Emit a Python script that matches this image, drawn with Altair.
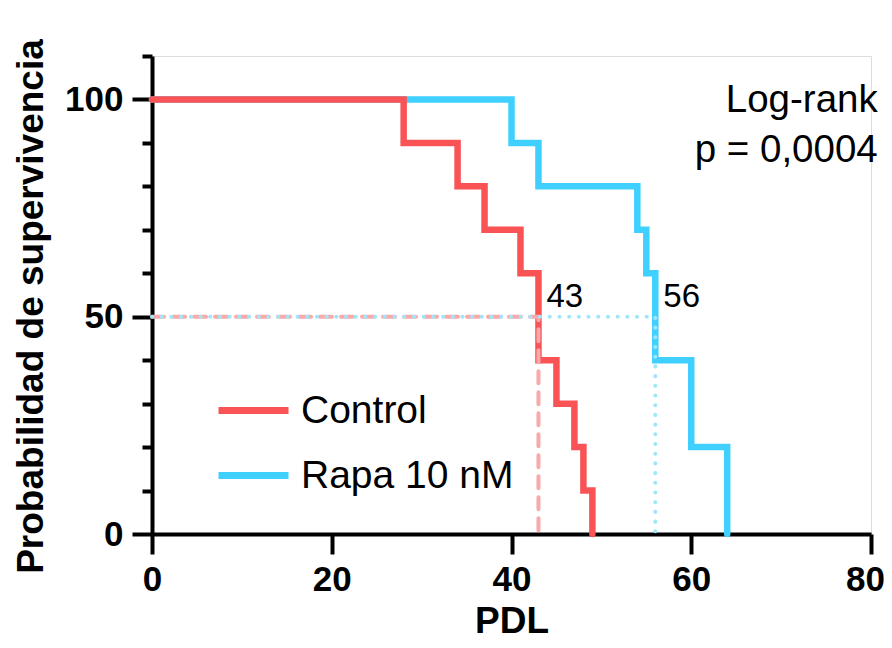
import altair as alt
import pandas as pd

# Kaplan-Meier step data
ctrl_pdl = [0, 28, 34, 37, 41, 43, 45, 47, 48, 49]
ctrl_surv = [100, 90, 80, 70, 60, 40, 30, 20, 10, 0]
rapa_pdl = [0, 40, 43, 54, 55, 56, 60, 64]
rapa_surv = [100, 90, 80, 70, 60, 40, 20, 0]

groups = ["Control", "Rapa 10 nM"]
colors = ["#F95355", "#40D0FF"]
medians = [43, 56]
median_colors = ["#F9A9AA", "#A0E6FA"]

ann_lines = ["Log-rank", "p = 0,0004"]
ann_x = [80.75, 80.75]
ann_y = [97.2, 85.7]

FONT = "Liberation Sans"

ctrl_df = pd.DataFrame({"PDL": ctrl_pdl, "surv": ctrl_surv, "group": groups[0]})
rapa_df = pd.DataFrame({"PDL": rapa_pdl, "surv": rapa_surv, "group": groups[1]})

xscale = alt.Scale(domain=[0, 80], nice=False, zero=False)
yscale = alt.Scale(domain=[0, 110], nice=False)

x_axis = alt.Axis(
    values=[0, 20, 40, 60, 80], title="PDL", grid=False, labelFlush=False,
    labelOffset={"condition": {"test": "datum.value === 80", "value": -6}, "value": 0},
    tickSize=20, tickWidth=4, tickColor="black", domainWidth=4, domainColor="black",
    labelFontSize=35, labelFontWeight="bold", labelFont=FONT, labelColor="black",
    labelPadding=8, titleFontSize=37, titleFontWeight="bold", titleFont=FONT,
    titleColor="black", titleX=359.5, titleY=98, titleBaseline="alphabetic",
    titleAlign="center",
)
y_axis = alt.Axis(
    values=list(range(0, 111, 5)),
    labelExpr="datum.value % 50 === 0 ? datum.label : ''",
    title="Probabilidad de supervivencia", grid=False, labelFlush=False,
    tickSize={"condition": {"test": "datum.value % 50 === 0", "value": 20}, "value": 10},
    tickWidth=4, tickColor="black", domainWidth=4, domainColor="black",
    labelFontSize=35, labelFontWeight="bold", labelFont=FONT, labelColor="black",
    labelPadding=9, titleFontSize=37, titleFontWeight="bold", titleFont=FONT,
    titleColor="black", titleX=-110, titleY=250, titleAngle=-90,
    titleBaseline="alphabetic", titleAlign="center",
)

color = alt.Color(
    "group:N",
    scale=alt.Scale(domain=groups, range=colors),
    legend=alt.Legend(
        title=None, orient="none", legendX=63, legendY=316, padding=0,
        symbolType="stroke", symbolSize=4900, symbolStrokeWidth=7,
        labelFontSize=39, labelFont=FONT, labelColor="black", labelOffset=9,
        labelLimit=400, rowPadding=6,
    ),
)

def curve(df):
    return alt.Chart(df).mark_line(
        interpolate="step-after", strokeWidth=6.5, strokeCap="round", strokeJoin="miter"
    ).encode(
        x=alt.X("PDL:Q", scale=xscale, axis=x_axis),
        y=alt.Y("surv:Q", scale=yscale, axis=y_axis),
        color=color,
    )

rapa = curve(rapa_df)
ctrl = curve(ctrl_df)

def median_line(m, col, dash):
    df = pd.DataFrame({"PDL": [0, m, m], "surv": [50, 50, 0], "o": [0, 1, 2]})
    return alt.Chart(df).mark_line(
        stroke=col, strokeWidth=4, strokeDash=dash, strokeCap="round"
    ).encode(
        x=alt.X("PDL:Q", scale=xscale),
        y=alt.Y("surv:Q", scale=yscale),
        order="o:Q",
    )

med_ctrl = median_line(medians[0], median_colors[0], [12, 9])
med_rapa = median_line(medians[1], median_colors[1], [0.1, 9.6])

med_df = pd.DataFrame({"PDL": medians, "surv": [50, 50], "lab": [str(m) for m in medians]})
med_text = alt.Chart(med_df).mark_text(
    align="left", baseline="alphabetic", dx=8, dy=-10, fontSize=33, font=FONT, color="black"
).encode(
    x=alt.X("PDL:Q", scale=xscale),
    y=alt.Y("surv:Q", scale=yscale),
    text="lab:N",
)

ann_df = pd.DataFrame({"x": ann_x, "y": ann_y, "t": ann_lines})
ann = alt.Chart(ann_df).mark_text(
    align="right", baseline="alphabetic", fontSize=38.5, font=FONT, color="black"
).encode(
    x=alt.X("x:Q", scale=xscale),
    y=alt.Y("y:Q", scale=yscale),
    text="t:N",
)

chart = alt.layer(rapa, ctrl, med_ctrl, med_rapa, med_text, ann).properties(
    width=719, height=478,
    autosize=alt.AutoSizeParams(type="none"),
    padding={"left": 144, "top": 48, "right": 13, "bottom": 106},
).configure_view(stroke=None).configure(background="white")

chart.save("out.html", embed_options={"renderer": "svg", "actions": False})
